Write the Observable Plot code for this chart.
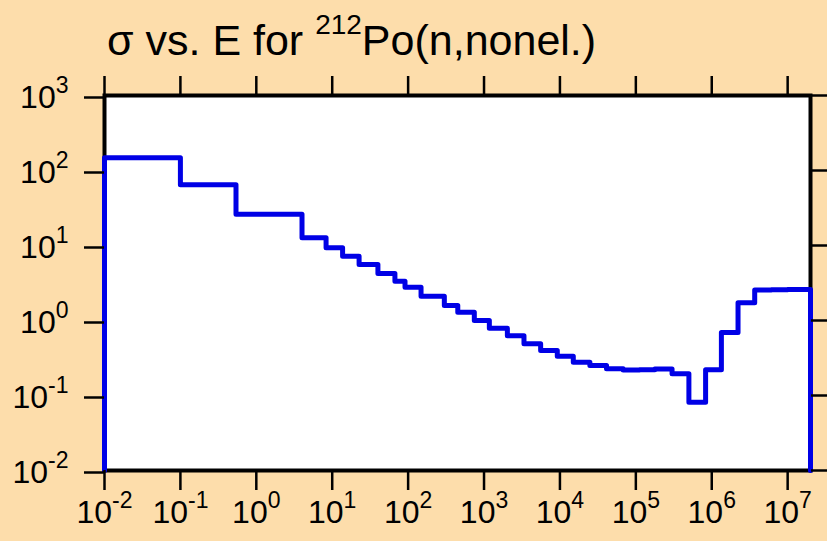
<!DOCTYPE html>
<html>
<head>
<meta charset="utf-8">
<script src="https://cdn.jsdelivr.net/npm/d3@7"></script>
<script src="https://cdn.jsdelivr.net/npm/@observablehq/plot@0.6"></script>
<style>
  html, body { margin: 0; padding: 0; background: #FDDDAB; }
  #wrap { position: relative; width: 827px; height: 541px; background: #FDDDAB; overflow: hidden;
          font-family: "Liberation Sans", Arial, Helvetica, sans-serif; color: #000; }
  #title { position: absolute; left: 107px; top: 19px; font-size: 43px; line-height: 43px; white-space: nowrap; }
  #title .sup { font-size: 28px; position: relative; top: -21px; }
  #chart { position: absolute; left: 0; top: 65px; }
</style>
</head>
<body>
<div id="wrap">
  <div id="title">σ vs. E for <span class="sup">212</span>Po(n,nonel.)</div>
  <div id="chart"></div>
</div>
<script>
// Group boundaries (energy, eV) and cross sections (barns) per group
const energyEdges = [0.01, 0.1, 0.54, 4.0, 8.3, 13.7, 22.6, 40, 67, 91,
  148, 300, 451, 745, 1175, 2030, 3360, 5570, 9230, 15000,
  24800, 41100, 68100, 1.12e5, 1.78e5, 3.0e5, 5.0e5, 8.3e5, 1.34e6, 2.22e6,
  3.68e6, 6.1e6, 1.0e7, 2.0e7];
const sigmaValues = [147.6, 64.4, 26.1, 12.7, 9.3, 7.2, 5.58, 4.24, 3.34, 2.78,
  2.11, 1.585, 1.29, 1.0, 0.79, 0.625, 0.489, 0.398, 0.334, 0.278,
  0.251, 0.227, 0.218, 0.221, 0.225, 0.195, 0.0815, 0.22, 0.69, 1.72,
  2.56, 2.58, 2.6];
const xTicks = [1e-2, 1e-1, 1e0, 1e1, 1e2, 1e3, 1e4, 1e5, 1e6, 1e7];
const xTickExponents = ["-2", "-1", "0", "1", "2", "3", "4", "5", "6", "7"];
const yTicks = [1e-2, 1e-1, 1e0, 1e1, 1e2, 1e3];
const yTickExponents = ["-2", "-1", "0", "1", "2", "3"];
const sigmaFloor = 0.01;

// histogram outline: start at floor, step through groups, drop to floor at the end
const points = [{E: energyEdges[0], s: sigmaFloor}];
energyEdges.forEach((e, i) => points.push({E: e, s: i < sigmaValues.length ? sigmaValues[i] : sigmaFloor}));

const fmtX = d => "10^" + xTickExponents[xTicks.indexOf(d)];
const fmtY = d => "10^" + yTickExponents[yTicks.indexOf(d)];

const svg = Plot.plot({
  width: 827,
  height: 476,
  marginLeft: 104,
  marginRight: 17,
  marginTop: 30,
  marginBottom: 71,
  style: {background: "transparent", fontFamily: "'Liberation Sans', Arial, sans-serif", color: "#000", overflow: "visible"},
  x: {type: "log", domain: [1e-2, 2e7]},
  y: {type: "log", domain: [1e-2, 1e3]},
  marks: [
    Plot.frame({fill: "white", stroke: null}),
    Plot.frame({stroke: "black", strokeWidth: 4}),
    Plot.line(points, {x: "E", y: "s", curve: "step-after", stroke: "#0000E6", strokeWidth: 5}),
    Plot.axisX(xTicks, {anchor: "bottom", tickSize: 20, tickPadding: 10, strokeWidth: 2.5, fontSize: 32, tickFormat: fmtX, label: null}),
    Plot.axisX(xTicks, {anchor: "top", tickSize: 20, strokeWidth: 2.5, tickFormat: () => "", label: null}),
    Plot.axisY(yTicks, {anchor: "left", tickSize: 20, tickPadding: 16, strokeWidth: 2.5, fontSize: 32, dy: 2, tickFormat: fmtY, label: null}),
    Plot.axisY(yTicks, {anchor: "right", tickSize: 20, strokeWidth: 2.5, tickFormat: () => "", label: null})
  ]
});

// render "10^n" tick labels with superscript exponents
d3.select(svg).selectAll("text").each(function() {
  const t = this.textContent;
  if (!t || !t.includes("^")) return;
  const [base, exp] = t.split("^");
  const sel = d3.select(this);
  sel.text(null);
  sel.append("tspan").text(base);
  sel.append("tspan").attr("dy", -15).attr("font-size", 23).text(exp);
});

document.getElementById("chart").appendChild(svg);
</script>
</body>
</html>
